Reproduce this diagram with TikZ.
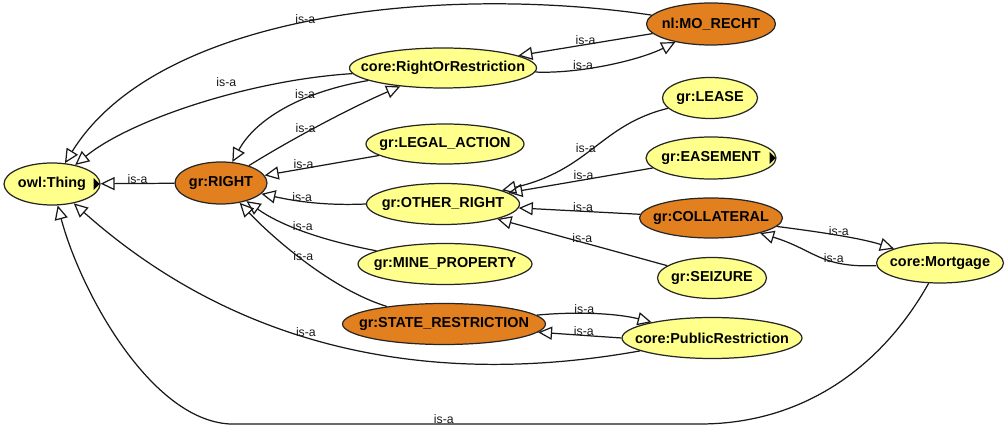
\documentclass[tikz,border=0pt]{standalone}
\usepackage{fontspec}
\setmainfont{Liberation Sans}
\usetikzlibrary{shapes.geometric,arrows.meta}

\definecolor{clsyellow}{RGB}{255,255,140}
\definecolor{clsorange}{RGB}{226,128,32}

\begin{document}
\begin{tikzpicture}[x=0.02cm,y=-0.02cm,
    cls/.style={ellipse,draw=black!85,fill=clsyellow,line width=0.7pt,
      font=\fontsize{8.2}{9}\selectfont\bfseries,inner xsep=-12pt,inner ysep=0pt,
      minimum height=0.82cm},
    clsdef/.style={cls,fill=clsorange},
    isa/.style={-{Triangle[open,length=8pt,width=7.5pt]},line width=0.7pt,black!90},
    lbl/.style={font=\fontsize{7}{8}\selectfont,anchor=base,inner sep=0pt}]
  \useasboundingbox (0,0) rectangle (1007,428);

  % Classes
  \node[cls,minimum width=1.92cm,minimum height=0.84cm] (thing) at (52,184) {owl:Thing};
  \node[clsdef,minimum width=1.84cm,minimum height=0.84cm] (right) at (221,183) {gr:RIGHT};
  \node[cls,minimum width=3.74cm,minimum height=0.80cm] (ror) at (443,68) {core:RightOrRestriction};
  \node[clsdef,minimum width=2.58cm,minimum height=0.84cm] (mo) at (711,24) {nl:MO\_RECHT};
  \node[cls,minimum width=3.16cm,minimum height=0.80cm] (legal) at (445,144) {gr:LEGAL\_ACTION};
  \node[cls,minimum width=3.06cm] (other) at (443,204) {gr:OTHER\_RIGHT};
  \node[cls,minimum width=3.48cm] (mine) at (445,264) {gr:MINE\_PROPERTY};
  \node[clsdef,minimum width=4.06cm] (state) at (444,324) {gr:STATE\_RESTRICTION};
  \node[cls,minimum width=3.60cm] (public) at (712,338) {core:PublicRestriction};
  \node[cls,minimum width=1.90cm] (lease) at (710,98) {gr:LEASE};
  \node[cls,minimum width=2.60cm,minimum height=0.84cm] (easement) at (711,158) {gr:EASEMENT};
  \node[clsdef,minimum width=2.86cm,minimum height=0.80cm] (collateral) at (711,218) {gr:COLLATERAL};
  \node[cls,minimum width=2.18cm] (seizure) at (712,278) {gr:SEIZURE};
  \node[cls,minimum width=2.54cm,minimum height=0.80cm] (mortgage) at (940,263) {core:Mortgage};

  % expand markers
  \fill (thing.east) ++(-7,-6) -- ++(6,6) -- ++(-6,6) -- cycle;
  \fill (easement.east) ++(-7,-6) -- ++(6,6) -- ++(-6,6) -- cycle;

  % is-a links to owl:Thing
  \draw[isa] (mo) .. controls (450,-15) and (160,10) .. node[lbl,pos=.52] {is-a} (thing);
  \draw[isa] (ror) .. controls (250,80) and (130,120) .. node[lbl,pos=.4,yshift=5pt] {is-a} (thing);
  \draw[isa] (right) -- node[lbl] {is-a} (thing);
  \draw[isa] (public) .. controls (450,385) and (250,360) .. node[lbl,pos=.58] {is-a} (thing);
  \draw[isa] (mortgage) .. controls (880,370) and (800,424) .. (700,424)
    -- node[lbl,pos=.545] {is-a} (230,424) .. controls (150,420) and (80,290) .. (thing);

  % is-a links to gr:RIGHT
  \draw[isa] (ror) .. controls (300,92) and (255,120) .. node[lbl,pos=.35] {is-a} (right);
  \draw[isa] (legal) -- node[lbl,pos=.66] {is-a} (right);
  \draw[isa] (other.west) .. controls (320,206) and (290,200) .. node[lbl,pos=.55] {is-a} (right.-15);
  \draw[isa] (mine) .. controls (320,240) and (280,225) .. node[lbl,pos=.5] {is-a} (right);
  \draw[isa] (state) .. controls (330,289) and (270,235) .. node[lbl,pos=.5] {is-a} (right);

  % between core:RightOrRestriction, gr:RIGHT and nl:MO_RECHT
  \draw[isa] (right) .. controls (290,140) and (350,108) .. node[lbl,pos=.4] {is-a} (ror);
  \draw[isa] (mo) -- node[lbl,pos=.5] {is-a} (ror);
  \draw[isa] (ror) .. controls (580,74) and (640,60) .. node[lbl,pos=.33] {is-a} (mo);

  % is-a links to gr:OTHER_RIGHT
  \draw[isa] (lease) .. controls (600,125) and (590,170) .. node[lbl,pos=.55] {is-a} (other);
  \draw[isa] (easement) -- node[lbl,pos=.48] {is-a} (other);
  \draw[isa] (collateral) -- node[lbl,pos=.47] {is-a} (other);
  \draw[isa] (seizure) -- node[lbl,pos=.5] {is-a} (other);

  % gr:COLLATERAL <-> core:Mortgage
  \draw[isa] (collateral) .. controls (820,232) and (860,238) .. node[lbl,pos=.5] {is-a} (mortgage);
  \draw[isa] (mortgage) .. controls (820,268) and (815,250) .. node[lbl,pos=.33] {is-a} (collateral);

  % gr:STATE_RESTRICTION <-> core:PublicRestriction
  \draw[isa] (state) .. controls (580,311) and (620,314) .. node[lbl,pos=.38] {is-a} (public);
  \draw[isa] (public.west) -- node[lbl,pos=.45] {is-a} (state.-5);
\end{tikzpicture}
\end{document}
